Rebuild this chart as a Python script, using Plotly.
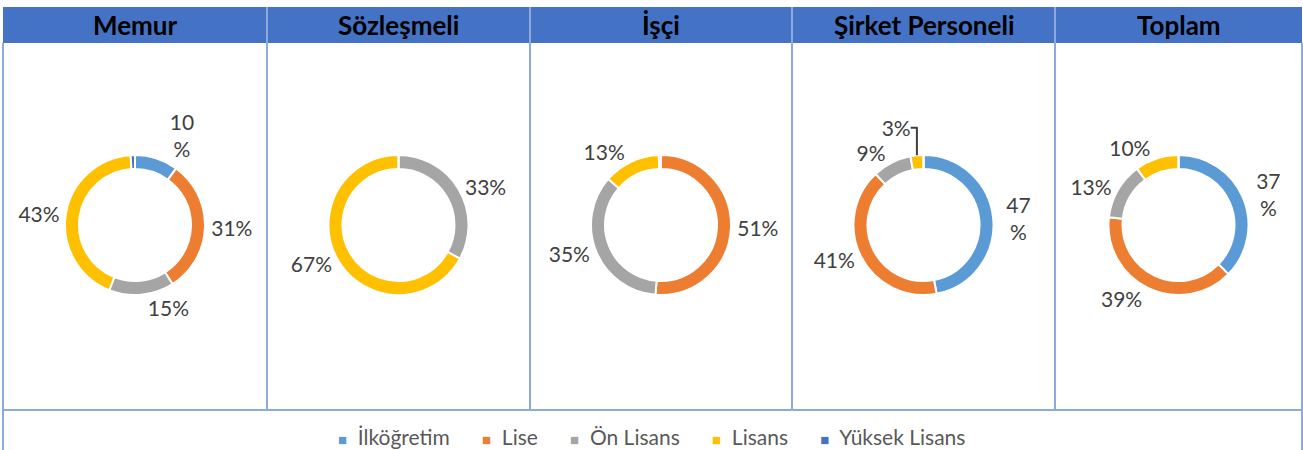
import plotly.graph_objects as go

categories = ["İlköğretim", "Lise", "Ön Lisans", "Lisans", "Yüksek Lisans"]
colors = ["#5B9BD5", "#ED7D31", "#A5A5A5", "#FFC000", "#4472C4"]

groups = ["Memur", "Sözleşmeli", "İşçi", "Şirket Personeli", "Toplam"]

memur = [10, 31, 15, 43, 1]
sozlesmeli = [0, 0, 33, 67, 0]
isci = [0, 51, 35, 13, 0.5]
sirket = [47, 41, 9, 3, 0]
toplam = [37, 39, 13, 10, 0]

memur_text = ["10<br>%", "31%", "15%", "43%", ""]
sozlesmeli_text = ["", "", "33%", "67%", ""]
isci_text = ["", "51%", "35%", "13%", ""]
sirket_text = ["47<br>%", "41%", "9%", "3%", ""]
toplam_text = ["37<br>%", "39%", "13%", "10%", ""]

series = [memur, sozlesmeli, isci, sirket, toplam]
texts = [memur_text, sozlesmeli_text, isci_text, sirket_text, toplam_text]

W, H = 1303, 450
col_edges = [3, 267, 530, 792, 1055, 1302]
header_top, header_bot, body_bot = 7, 43, 410
ring_r = 70
ring_cy = 225
FONT = "Lato"

fig = go.Figure()

for i, (vals, txt) in enumerate(zip(series, texts)):
    cx = (col_edges[i] + col_edges[i + 1]) / 2
    fig.add_trace(go.Pie(
        labels=categories,
        values=vals,
        text=txt,
        textinfo="text",
        textposition="outside",
        textfont=dict(family=FONT, size=21, color="#404040"),
        hole=0.8,
        sort=False,
        direction="clockwise",
        rotation=0,
        marker=dict(colors=colors, line=dict(color="white", width=2)),
        domain=dict(x=[(cx - ring_r) / W, (cx + ring_r) / W],
                    y=[1 - (ring_cy + ring_r) / H, 1 - (ring_cy - ring_r) / H]),
        showlegend=False,
        hoverinfo="label+percent",
    ))

shapes = []
shapes.append(dict(type="rect", xref="paper", yref="paper",
                   x0=col_edges[0] / W, x1=col_edges[-1] / W,
                   y0=1 - header_bot / H, y1=1 - header_top / H,
                   fillcolor="#4472C4", line=dict(width=0), layer="below"))
border = "#8EA9DB"
for xe in col_edges[1:-1]:
    shapes.append(dict(type="line", xref="paper", yref="paper",
                       x0=xe / W, x1=xe / W, y0=1 - header_bot / H, y1=1 - header_top / H,
                       line=dict(color="#8EA9DB", width=2)))
for xe in col_edges:
    shapes.append(dict(type="line", xref="paper", yref="paper",
                       x0=xe / W, x1=xe / W, y0=1 - body_bot / H, y1=1 - header_bot / H,
                       line=dict(color=border, width=2)))
for xe in [col_edges[0], col_edges[-1]]:
    shapes.append(dict(type="line", xref="paper", yref="paper",
                       x0=xe / W, x1=xe / W, y0=0, y1=1 - body_bot / H,
                       line=dict(color=border, width=2)))
shapes.append(dict(type="line", xref="paper", yref="paper",
                   x0=col_edges[0] / W, x1=col_edges[-1] / W,
                   y0=1 - body_bot / H, y1=1 - body_bot / H,
                   line=dict(color=border, width=2)))

annotations = []
for i, g in enumerate(groups):
    cx = (col_edges[i] + col_edges[i + 1]) / 2
    annotations.append(dict(x=cx / W, y=1 - (header_top + header_bot) / 2 / H,
                            xref="paper", yref="paper", text=f"<b>{g}</b>",
                            showarrow=False, xanchor="center", yanchor="middle",
                            font=dict(family=FONT, size=26, color="black")))

# legend row built from the category names and colours
gap = "&nbsp;" * 6
legend_parts = [
    f"<span style='color:{c};font-size:15px'>■</span>&nbsp;&nbsp;{name}"
    for name, c in zip(categories, colors)
]
annotations.append(dict(x=0.5, y=1 - 436 / H, xref="paper", yref="paper",
                        text=gap.join(legend_parts), showarrow=False,
                        xanchor="center", yanchor="middle",
                        font=dict(family=FONT, size=21, color="#595959")))

fig.update_layout(
    width=W, height=H,
    margin=dict(l=0, r=0, t=0, b=0),
    paper_bgcolor="white", plot_bgcolor="white",
    shapes=shapes, annotations=annotations,
    showlegend=False,
)

fig.write_html("out.html")
